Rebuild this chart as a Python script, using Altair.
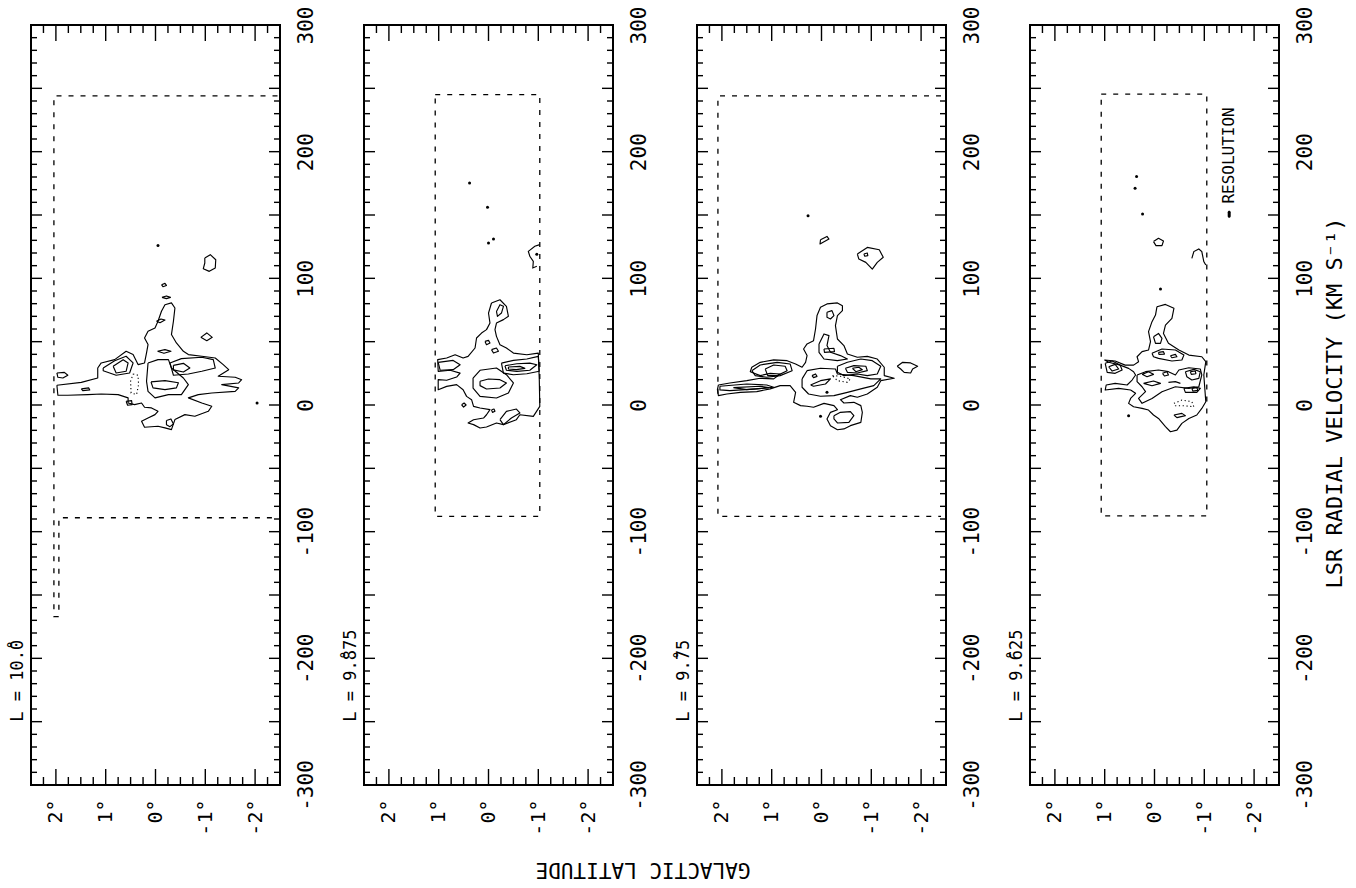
import altair as alt
import pandas as pd

FONT = "DejaVu Sans Mono"
W, H = 249, 760

# ---- axis values -------------------------------------------------------
LAT_LABELS = [-2, -1, 0, 1, 2]
VEL_LABELS = [-300, -200, -100, 0, 100, 200, 300]
LAT_MAJOR = [-2, -1, 0, 1, 2]
LAT_MINOR = [-2.25, -1.75, -1.5, -1.25, -0.75, -0.5, -0.25,
             0.25, 0.5, 0.75, 1.25, 1.5, 1.75, 2.25]
VEL_MAJOR = [-250, -200, -150, -100, -50, 0, 50, 100, 150, 200, 250]
VEL_MINOR = [v for v in range(-290, 300, 10) if v % 50 != 0]

LONGITUDES = ["L = 10.\u030a0", "L = 9.\u030a875", "L = 9.\u030a75", "L = 9.\u030a625"]

# ---- observed-region outlines (lat deg, v km/s) -----------------------
BOUNDARY_100 = [(-2.45, 244), (2.04, 244), (2.04, -167), (1.94, -167), (1.94, -89), (-2.45, -89)]
BOUNDARY_9875 = [(1.07, 245), (-1.03, 245), (-1.03, -88), (1.07, -88), (1.07, 245)]
BOUNDARY_975 = [(-2.4, 244), (2.08, 244), (2.08, -88), (-2.4, -88)]
BOUNDARY_9625 = [(1.07, 245.5), (-1.05, 245.5), (-1.05, -87.5), (1.07, -87.5), (1.07, 245.5)]

# ---- contours, l = 10.0 -----------------------------------------------
C100 = {
    "outer": [(1.98, 15.6), (1.49, 17.9), (1.16, 21.3), (1.16, 29.2), (1.09, 33.2), (0.82, 35.8),
              (0.59, 42.4), (0.45, 39.8), (0.35, 31.9), (0.22, 33.2), (0.18, 41.1), (0.15, 47.7),
              (0.22, 52.9), (0.15, 58.2), (0.01, 60.8), (-0.05, 66.1), (-0.12, 74.0), (-0.19, 79.2),
              (-0.32, 80.6), (-0.39, 76.6), (-0.36, 66.1), (-0.32, 55.6), (-0.42, 49.0), (-0.56, 42.4),
              (-0.66, 39.8), (-0.93, 38.5), (-1.20, 37.1), (-1.36, 31.9), (-1.47, 27.9), (-1.26, 22.7),
              (-1.60, 21.9), (-1.73, 20.0), (-1.67, 17.4), (-1.33, 16.1), (-1.67, 13.5), (-1.60, 10.8),
              (-1.13, 9.5), (-0.86, 8.2), (-0.66, 5.6), (-0.93, 1.6), (-1.13, -1.0), (-1.06, -5.0),
              (-0.79, -8.9), (-0.59, -7.6), (-0.39, -11.5), (-0.32, -19.4), (-0.19, -18.1), (-0.05, -16.8),
              (0.22, -17.6), (0.28, -12.9), (0.15, -10.2), (0.01, -7.6), (-0.05, -5.0), (0.08, -2.3),
              (0.22, -1.8), (0.28, 1.6), (0.42, 0.3), (0.55, 1.6), (0.55, 5.6), (0.75, 8.2),
              (1.09, 8.7), (1.36, 8.2), (1.76, 7.7), (1.96, 7.7)],
    "a": [(1.05, 29.2), (0.82, 35.0), (0.59, 38.5), (0.45, 33.2), (0.52, 25.3), (0.79, 23.5), (1.05, 27.1)],
    "b": [(0.85, 30.6), (0.65, 35.8), (0.55, 33.2), (0.59, 26.6), (0.79, 25.3)],
    "c": [(0.15, 33.2), (-0.05, 35.8), (-0.26, 35.8), (-0.32, 29.2), (-0.56, 21.3), (-0.66, 16.1),
          (-0.52, 8.2), (-0.26, 8.2), (0.01, 5.6), (0.15, 10.8), (0.18, 18.7)],
    "d": [(-0.29, 33.2), (-0.52, 36.6), (-0.93, 37.7), (-1.16, 35.8), (-1.20, 29.2), (-0.93, 26.6),
          (-0.66, 24.5), (-0.36, 23.5)],
    "e": [(-0.36, 31.3), (-0.56, 32.9), (-0.69, 29.2), (-0.56, 26.1), (-0.36, 27.7)],
    "f": [(0.09, 18.2), (-0.19, 19.2), (-0.46, 17.6), (-0.42, 13.5), (-0.19, 12.1), (0.05, 13.5)],
    "g": [(-0.22, -12.3), (-0.31, -11.0), (-0.36, -15.0), (-0.29, -17.1), (-0.22, -15.5)],
    "h": [(-0.91, 53.4), (-1.03, 56.9), (-1.14, 53.4), (-1.03, 50.8)],
    "i1": [(-0.13, 85.0), (-0.22, 86.1), (-0.30, 85.0), (-0.22, 84.0)],
    "i2": [(-0.02, 66.1), (-0.11, 67.9), (-0.19, 67.1), (-0.09, 65.0)],
    "i3": [(-0.04, 42.4), (-0.19, 43.7), (-0.31, 42.4), (-0.17, 40.8)],
    "j": [(1.98, 25.3), (1.83, 25.8), (1.76, 23.5), (1.86, 21.3), (1.96, 21.9)],
    "k": [(1.49, 12.7), (1.34, 13.5), (1.32, 11.9), (1.46, 11.3)],
    "l": [(0.59, 2.9), (0.48, 3.5), (0.47, 0.3), (0.56, -0.2)],
    "m": [(-0.99, 116.0), (-1.10, 118.7), (-1.21, 114.7), (-1.20, 108.1), (-1.08, 105.5),
          (-0.96, 107.6), (-0.99, 112.1)],
    "n": [(-0.12, 95.0), (-0.19, 96.0), (-0.22, 94.4), (-0.15, 93.4)],
}
D100 = {"neg": [(0.45, 24.5), (0.35, 23.5), (0.34, 16.1), (0.38, 8.2), (0.49, 9.5), (0.50, 18.7)]}
O100 = {}
S100 = [(-0.05, 126.0), (-2.04, 1.6)]

# ---- contours, l = 9.875 ----------------------------------------------
C9875 = {
    "outer": [(-0.06, 80.5), (-0.23, 83.1), (-0.36, 77.9), (-0.40, 70.0), (-0.30, 67.4), (-0.16, 64.7),
              (-0.13, 59.5), (-0.16, 54.2), (-0.23, 47.6), (-0.36, 45.0), (-0.50, 41.0), (-0.77, 39.7),
              (-1.00, 41.0), (-1.02, 20.0), (-1.03, -1.1), (-0.90, -9.0), (-0.63, -7.7), (-0.56, -11.6),
              (-0.30, -15.5), (-0.16, -14.2), (0.04, -17.4), (0.17, -18.2), (0.30, -15.5), (0.41, -14.2),
              (0.30, -11.6), (0.10, -10.3), (0.04, -7.7), (-0.03, -3.7), (0.17, -2.4), (0.30, -1.1),
              (0.34, 4.2), (0.44, 6.8), (0.51, 12.1), (0.64, 16.1), (0.84, 14.7), (1.01, 12.1),
              (1.01, 20.0), (0.84, 19.5), (0.64, 22.1), (0.57, 25.2), (0.77, 27.4), (1.01, 26.6),
              (1.02, 35.8), (0.84, 37.1), (0.67, 39.7), (0.51, 37.1), (0.41, 38.4), (0.27, 45.0),
              (0.24, 52.9), (0.14, 56.8), (0.04, 59.5), (-0.03, 64.7), (0.00, 72.6)],
    "a": [(-0.16, 73.9), (-0.23, 79.2), (-0.30, 77.9), (-0.26, 72.6), (-0.18, 70.0)],
    "b": [(0.07, 50.2), (0.00, 51.0), (-0.03, 48.9), (0.04, 47.6)],
    "c": [(-0.06, 43.7), (-0.16, 45.0), (-0.20, 42.4), (-0.10, 41.0)],
    "d1": [(-0.26, 33.1), (-0.50, 35.2), (-0.77, 36.3), (-1.00, 38.4), (-1.02, 26.6), (-0.77, 24.7),
           (-0.50, 23.9), (-0.30, 25.2)],
    "d2": [(-0.33, 31.0), (-0.57, 32.6), (-0.83, 33.1), (-0.97, 31.8), (-0.83, 27.4), (-0.57, 26.6),
           (-0.36, 27.4)],
    "d3": [(-0.40, 30.0), (-0.63, 30.5), (-0.73, 28.9), (-0.56, 27.9), (-0.40, 28.4)],
    "e": [(0.31, 21.3), (0.17, 27.4), (-0.16, 29.2), (-0.36, 23.9), (-0.50, 17.4), (-0.40, 9.5),
          (-0.16, 5.5), (0.17, 6.8), (0.31, 13.4)],
    "f": [(0.17, 18.7), (0.00, 20.5), (-0.23, 20.0), (-0.36, 17.4), (-0.23, 13.4), (0.04, 12.6), (0.17, 15.3)],
    "g": [(1.01, 33.7), (0.71, 35.2), (0.57, 31.8), (0.71, 27.9), (0.97, 27.4)],
    "h": [(-0.23, -11.6), (-0.36, -5.0), (-0.56, -3.2), (-0.63, -6.3), (-0.46, -10.3), (-0.30, -15.5)],
    "i": [(0.54, 0.2), (0.49, 1.6), (0.45, 0.0), (0.50, -1.6)],
    "j": [(-0.06, -3.7), (-0.11, -3.2), (-0.13, -5.0), (-0.08, -5.8)],
}
D9875 = {}
O9875 = {"edge": [(-1.03, 126.6), (-0.93, 125.3), (-0.80, 121.3), (-0.83, 117.4), (-0.90, 113.4),
                  (-0.89, 108.2), (-0.97, 109.5)]}
S9875 = [(0.38, 175.3), (0.02, 156.1), (-0.10, 131.1), (0.00, 127.9), (-0.97, 119.0)]

# ---- contours, l = 9.75 -----------------------------------------------
C975 = {
    "outer": [(2.07, 15.8), (1.84, 17.4), (1.50, 19.2), (1.23, 21.1), (0.96, 20.6), (0.83, 24.5),
              (1.03, 25.0), (1.23, 23.2), (1.43, 26.3), (1.40, 29.8), (1.23, 33.7), (0.96, 35.6),
              (0.69, 35.0), (0.52, 32.4), (0.39, 29.8), (0.32, 33.7), (0.29, 39.0), (0.36, 44.2),
              (0.29, 48.2), (0.16, 50.8), (0.12, 60.0), (0.09, 70.6), (0.02, 77.1), (-0.11, 79.8),
              (-0.32, 80.6), (-0.42, 78.4), (-0.42, 74.5), (-0.32, 70.6), (-0.28, 62.7), (-0.32, 52.1),
              (-0.45, 46.9), (-0.52, 40.3), (-0.72, 37.7), (-0.92, 38.4), (-1.12, 36.3), (-1.26, 29.8),
              (-1.26, 23.2), (-1.46, 21.1), (-1.19, 19.2), (-1.12, 14.0), (-0.92, 8.7), (-0.72, 6.1),
              (-0.58, 7.4), (-0.38, 4.2), (-0.45, 1.6), (-0.65, 2.1), (-0.79, -0.5), (-0.82, -5.8),
              (-0.79, -13.7), (-0.58, -16.3), (-0.45, -18.9), (-0.32, -19.5), (-0.18, -16.3),
              (-0.11, -11.0), (-0.18, -5.8), (-0.32, -3.7), (-0.25, -0.5), (-0.05, 1.3), (0.16, -1.8),
              (0.29, -1.0), (0.42, -0.5), (0.56, 2.1), (0.52, 10.0), (0.63, 15.3), (0.83, 15.3),
              (1.03, 12.7), (1.30, 10.6), (1.63, 10.0), (1.90, 8.7), (2.07, 7.4), (2.09, 12.1)],
    "a": [(1.40, 27.1), (1.23, 31.6), (0.89, 33.7), (0.63, 32.4), (0.59, 27.1), (0.83, 23.2), (1.10, 21.9),
          (1.33, 23.2)],
    "b": [(1.13, 28.4), (0.96, 31.6), (0.73, 30.6), (0.69, 27.1), (0.89, 23.2), (1.08, 23.2)],
    "c": [(2.04, 14.8), (1.50, 16.6), (1.10, 15.8), (0.96, 14.0), (1.30, 12.7), (1.84, 11.3), (2.04, 11.9)],
    "d": [(1.77, 13.7), (1.23, 14.8), (1.06, 13.7), (1.50, 12.1)],
    "e": [(0.05, 48.2), (-0.05, 56.1), (-0.15, 54.8), (-0.11, 46.9), (-0.18, 41.6), (-0.38, 39.0),
          (-0.52, 36.3), (-0.32, 35.0), (-0.05, 36.3), (0.05, 41.6)],
    "f": [(-0.11, 73.2), (-0.21, 74.5), (-0.25, 70.6), (-0.18, 67.9), (-0.11, 69.2)],
    "g": [(-0.05, 44.2), (-0.25, 44.8), (-0.26, 42.1), (-0.06, 41.6)],
    "h": [(-0.32, 30.6), (-0.52, 33.7), (-0.79, 36.3), (-1.02, 35.0), (-1.19, 30.6), (-1.12, 24.5),
          (-0.92, 23.2), (-0.72, 24.5), (-0.45, 23.2), (-0.32, 25.8)],
    "i": [(-0.48, 29.0), (-0.65, 31.1), (-0.89, 30.6), (-0.92, 27.1), (-0.72, 25.3), (-0.52, 25.8)],
    "j": [(-0.62, 29.0), (-0.75, 29.8), (-0.82, 27.9), (-0.69, 26.3)],
    "k": [(0.22, 15.8), (0.02, 19.2), (-0.18, 20.6), (-0.08, 16.6), (0.16, 14.8)],
    "l": [(0.19, 23.2), (0.12, 24.5), (0.09, 22.6), (0.16, 21.6)],
    "m": [(0.39, 20.6), (0.29, 27.1), (0.02, 29.0), (-0.28, 28.4), (-0.32, 24.5), (-0.65, 23.2),
          (-0.99, 20.6), (-1.19, 20.6), (-1.05, 15.3), (-0.79, 12.7), (-0.52, 10.0), (-0.25, 7.4),
          (0.02, 6.9), (0.26, 8.7), (0.39, 14.0)],
    "n": [(-0.25, -8.4), (-0.38, -5.8), (-0.58, -5.2), (-0.65, -8.4), (-0.55, -13.7), (-0.32, -14.2),
          (-0.25, -11.0)],
    "o": [(-1.52, 30.6), (-1.63, 33.7), (-1.79, 33.2), (-1.93, 30.6), (-1.83, 28.4), (-1.79, 25.3),
          (-1.66, 25.8), (-1.59, 28.4)],
    "p": [(-0.72, 119.2), (-0.92, 124.4), (-1.16, 122.6), (-1.24, 116.6), (-1.12, 112.6), (-1.02, 107.3),
          (-0.89, 112.6), (-0.75, 115.2)],
    "q": [(-0.85, 119.2), (-0.92, 120.0), (-0.93, 117.9), (-0.87, 117.4)],
    "r": [(0.02, 130.5), (-0.11, 133.1), (-0.15, 131.0), (-0.05, 128.9), (0.03, 127.1)],
}
D975 = {"neg": [(-0.22, 23.2), (-0.38, 22.7), (-0.58, 20.6), (-0.52, 17.9), (-0.32, 19.2)]}
O975 = {}
S975 = [(0.27, 149.5), (0.02, -8.9), (-0.11, 10.0)]

# ---- contours, l = 9.625 ----------------------------------------------
C9625 = {
    "outer": [(-0.05, 77.6), (-0.22, 79.4), (-0.39, 76.3), (-0.35, 68.4), (-0.22, 63.1), (-0.18, 56.5),
              (-0.28, 48.7), (-0.49, 43.4), (-0.69, 39.4), (-0.95, 38.1), (-1.03, 34.2), (-0.99, 23.7),
              (-1.03, 2.6), (-0.95, -2.7), (-0.85, -7.9), (-0.69, -10.6), (-0.55, -14.5), (-0.45, -19.8),
              (-0.32, -21.1), (-0.22, -17.1), (-0.08, -10.6), (0.02, -7.9), (0.12, -4.0), (0.25, -2.7),
              (0.42, -1.4), (0.52, 1.3), (0.48, 5.2), (0.38, 9.2), (0.48, 11.8), (0.72, 13.1),
              (0.99, 11.8), (0.97, 15.8), (0.79, 17.1), (0.55, 15.8), (0.45, 19.7), (0.38, 23.7),
              (0.42, 26.3), (0.52, 28.9), (0.69, 31.5), (0.92, 33.7), (1.00, 35.5), (0.79, 34.7),
              (0.59, 31.5), (0.42, 31.5), (0.32, 34.2), (0.35, 38.1), (0.25, 42.1), (0.12, 43.4),
              (0.08, 50.0), (0.12, 57.9), (0.05, 65.8), (-0.02, 71.0)],
    "a": [(0.02, 53.9), (-0.08, 56.5), (-0.15, 52.6), (-0.12, 48.7), (-0.02, 48.7)],
    "b": [(0.05, 40.8), (-0.15, 44.2), (-0.42, 43.4), (-0.59, 39.4), (-0.55, 35.5), (-0.35, 34.7),
          (-0.08, 36.8), (0.02, 38.1)],
    "c": [(-0.08, 41.5), (-0.18, 42.1), (-0.20, 40.2), (-0.09, 40.0)],
    "d": [(-0.32, 38.9), (-0.42, 40.0), (-0.45, 38.1), (-0.35, 37.3)],
    "e": [(0.99, 32.9), (0.85, 34.7), (0.69, 31.5), (0.65, 27.6), (0.79, 25.0), (0.95, 25.8)],
    "f": [(0.92, 30.2), (0.79, 32.1), (0.72, 28.4), (0.85, 26.8)],
    "g": [(0.35, 23.7), (0.18, 26.3), (-0.08, 27.6), (-0.28, 26.3), (-0.42, 23.7), (-0.49, 27.6),
          (-0.69, 29.4), (-0.92, 28.4), (-0.95, 23.7), (-0.89, 14.4), (-0.69, 13.1), (-0.42, 14.4),
          (-0.15, 10.5), (0.05, 5.2), (0.25, 1.3), (0.32, 5.2), (0.18, 10.5), (0.25, 14.4), (0.35, 18.4)],
    "h": [(0.25, 24.2), (0.12, 26.3), (0.02, 24.2), (0.15, 22.3)],
    "i": [(-0.16, 25.0), (-0.25, 26.3), (-0.28, 23.7), (-0.20, 22.9)],
    "j": [(0.22, 17.1), (0.02, 18.9), (-0.12, 17.1), (0.05, 15.2)],
    "k": [(-0.62, 26.3), (-0.79, 28.1), (-0.92, 26.3), (-0.89, 21.0), (-0.75, 19.7), (-0.65, 22.3)],
    "l": [(-0.72, 26.3), (-0.82, 26.8), (-0.83, 24.7), (-0.74, 24.2)],
    "m": [(-0.59, 13.1), (-0.79, 14.4), (-0.92, 13.1), (-0.85, 10.0), (-0.62, 10.0)],
    "n": [(-0.75, 13.1), (-0.85, 13.7), (-0.87, 11.6), (-0.77, 11.0)],
    "o": [(-0.39, -7.9), (-0.55, -6.6), (-0.62, -8.4), (-0.45, -10.0)],
    "q": [(0.02, 129.0), (-0.08, 131.6), (-0.18, 129.5), (-0.15, 125.8), (-0.03, 125.8)],
}
D9625 = {"neg": [(-0.39, 1.3), (-0.55, 3.9), (-0.75, 2.6), (-0.79, -1.4), (-0.59, -0.6), (-0.42, -0.6)]}
O9625 = {"edge": [(-0.75, 115.8), (-0.79, 121.1), (-0.89, 123.2), (-0.95, 121.1), (-0.99, 113.2),
                  (-1.03, 110.5)],
         "neg2": [(-0.28, 17.9), (-0.42, 18.4), (-0.52, 17.1)]}
S9625 = [(0.36, 180.3), (0.39, 171.1), (0.24, 150.8), (0.52, -8.5), (-0.12, 91.5)]

# beam / velocity resolution marker
RESOLUTION_LAT = -1.50
RESOLUTION_VEL = 150.5
RESOLUTION_TEXT_VEL = 159.0

PANELS = [
    dict(label=LONGITUDES[0], solid=C100, dotted=D100, open=O100, dots=S100, boundary=BOUNDARY_100),
    dict(label=LONGITUDES[1], solid=C9875, dotted=D9875, open=O9875, dots=S9875, boundary=BOUNDARY_9875),
    dict(label=LONGITUDES[2], solid=C975, dotted=D975, open=O975, dots=S975, boundary=BOUNDARY_975),
    dict(label=LONGITUDES[3], solid=C9625, dotted=D9625, open=O9625, dots=S9625, boundary=BOUNDARY_9625),
]


def lines_table(groups, closed=True):
    rows = []
    for name, pts in groups.items():
        seq = list(pts) + ([pts[0]] if closed else [])
        for k, (la, ve) in enumerate(seq):
            rows.append({"cid": name, "idx": k, "lat": la, "vel": ve})
    return pd.DataFrame(rows)


def path_table(pts):
    return pd.DataFrame([{"idx": k, "lat": la, "vel": ve} for k, (la, ve) in enumerate(pts)])


lat_axis = alt.Axis(orient="bottom", values=LAT_LABELS, ticks=False, tickSize=0, domain=False,
                    grid=False, title=None, labelAngle=270, labelAlign="right",
                    labelBaseline="middle", labelPadding=14, labelFont=FONT, labelFontSize=20,
                    labelColor="black", labelFlush=False, labelOverlap=False,
                    labelExpr="(datum.value < 0 ? '-' : '') + abs(datum.value) + '°'")
vel_axis = alt.Axis(orient="right", values=VEL_LABELS, ticks=False, tickSize=0, domain=False,
                    grid=False, title=None, labelAngle=270, labelAlign="center",
                    labelBaseline="middle", labelPadding=26, labelFont=FONT, labelFontSize=21,
                    labelColor="black", labelFlush=False, labelOverlap=False,
                    labelExpr="(datum.value < 0 ? '-' : '') + abs(datum.value)")

X = alt.X("lat:Q", scale=alt.Scale(domain=[-2.5, 2.5], reverse=True, nice=False, zero=False),
          axis=lat_axis)
Y = alt.Y("vel:Q", scale=alt.Scale(domain=[-300, 300], nice=False, zero=False), axis=vel_axis)


def make_panel(i, p):
    layers = []

    solid = lines_table(p["solid"], closed=True)
    layers.append(alt.Chart(solid).mark_line(color="black", strokeWidth=1.15, strokeJoin="round")
                  .encode(x=X, y=Y, detail="cid:N", order="idx:Q"))
    if p["dotted"]:
        dotted = lines_table(p["dotted"], closed=True)
        layers.append(alt.Chart(dotted).mark_line(color="black", strokeWidth=1.1, strokeDash=[1.2, 2.6])
                      .encode(x=X, y=Y, detail="cid:N", order="idx:Q"))
    if p["open"]:
        opened = lines_table(p["open"], closed=False)
        layers.append(alt.Chart(opened).mark_line(color="black", strokeWidth=1.15)
                      .encode(x=X, y=Y, detail="cid:N", order="idx:Q"))

    dots = pd.DataFrame(p["dots"], columns=["lat", "vel"])
    layers.append(alt.Chart(dots).mark_circle(color="black", size=9, opacity=1)
                  .encode(x=X, y=Y))

    layers.append(alt.Chart(path_table(p["boundary"]))
                  .mark_line(color="black", strokeWidth=1.3, strokeDash=[5, 7])
                  .encode(x=X, y=Y, order="idx:Q"))

    # inward tick marks on the four frame edges
    lat_major = pd.DataFrame({"lat": LAT_MAJOR})
    lat_minor = pd.DataFrame({"lat": LAT_MINOR})
    vel_major = pd.DataFrame({"vel": VEL_MAJOR})
    vel_minor = pd.DataFrame({"vel": VEL_MINOR})
    tick = dict(color="black", strokeWidth=1.4)
    for df, ln in ((lat_major, 16), (lat_minor, 8)):
        layers.append(alt.Chart(df).mark_rule(**tick)
                      .encode(x=X, y=alt.value(0), y2=alt.value(ln)))
        layers.append(alt.Chart(df).mark_rule(**tick)
                      .encode(x=X, y=alt.value(H), y2=alt.value(H - ln)))
    for df, ln in ((vel_major, 11), (vel_minor, 6)):
        layers.append(alt.Chart(df).mark_rule(**tick)
                      .encode(y=Y, x=alt.value(0), x2=alt.value(ln)))
        layers.append(alt.Chart(df).mark_rule(**tick)
                      .encode(y=Y, x=alt.value(W), x2=alt.value(W - ln)))

    # longitude of the slice
    lab = pd.DataFrame({"vel": [-250], "txt": [p["label"]]})
    layers.append(alt.Chart(lab).mark_text(angle=270, align="left", baseline="middle", font=FONT,
                                           fontSize=17, color="black")
                  .encode(x=alt.value(-13), y=Y, text="txt:N"))

    if i == 1:
        t = pd.DataFrame({"txt": ["GALACTIC LATITUDE"]})
        layers.append(alt.Chart(t).mark_text(angle=180, align="center", baseline="middle", font=FONT,
                                             fontSize=21, color="black")
                      .encode(x=alt.value(279), y=alt.value(844), text="txt:N"))
    if i == 3:
        res = pd.DataFrame({"lat": [RESOLUTION_LAT], "vel": [RESOLUTION_VEL]})
        layers.append(alt.Chart(res).mark_tick(orient="vertical", size=7, thickness=3, color="black",
                                               opacity=1, cornerRadius=1.5)
                      .encode(x=X, y=Y))
        rt = pd.DataFrame({"lat": [RESOLUTION_LAT], "vel": [RESOLUTION_TEXT_VEL], "txt": ["RESOLUTION"]})
        layers.append(alt.Chart(rt).mark_text(angle=270, align="left", baseline="middle", font=FONT,
                                              fontSize=16, color="black")
                      .encode(x=X, y=Y, text="txt:N"))
        tt = pd.DataFrame({"txt": ["LSR RADIAL VELOCITY (KM S\u207b\u00b9)"]})
        layers.append(alt.Chart(tt).mark_text(angle=270, align="center", baseline="middle", font=FONT,
                                              fontSize=22, color="black")
                      .encode(x=alt.value(305), y=alt.value(378), text="txt:N"))

    return alt.layer(*layers).properties(width=W, height=H)


panels = [make_panel(i, p) for i, p in enumerate(PANELS)]

chart = (
    alt.hconcat(*panels, spacing=84, bounds="flush")
    .properties(padding={"left": 8, "top": 5, "right": 5, "bottom": 2}, background="white")
    .configure_view(stroke="black", strokeWidth=2)
)

chart.save("out.html", embed_options={"renderer": "svg", "actions": False})
